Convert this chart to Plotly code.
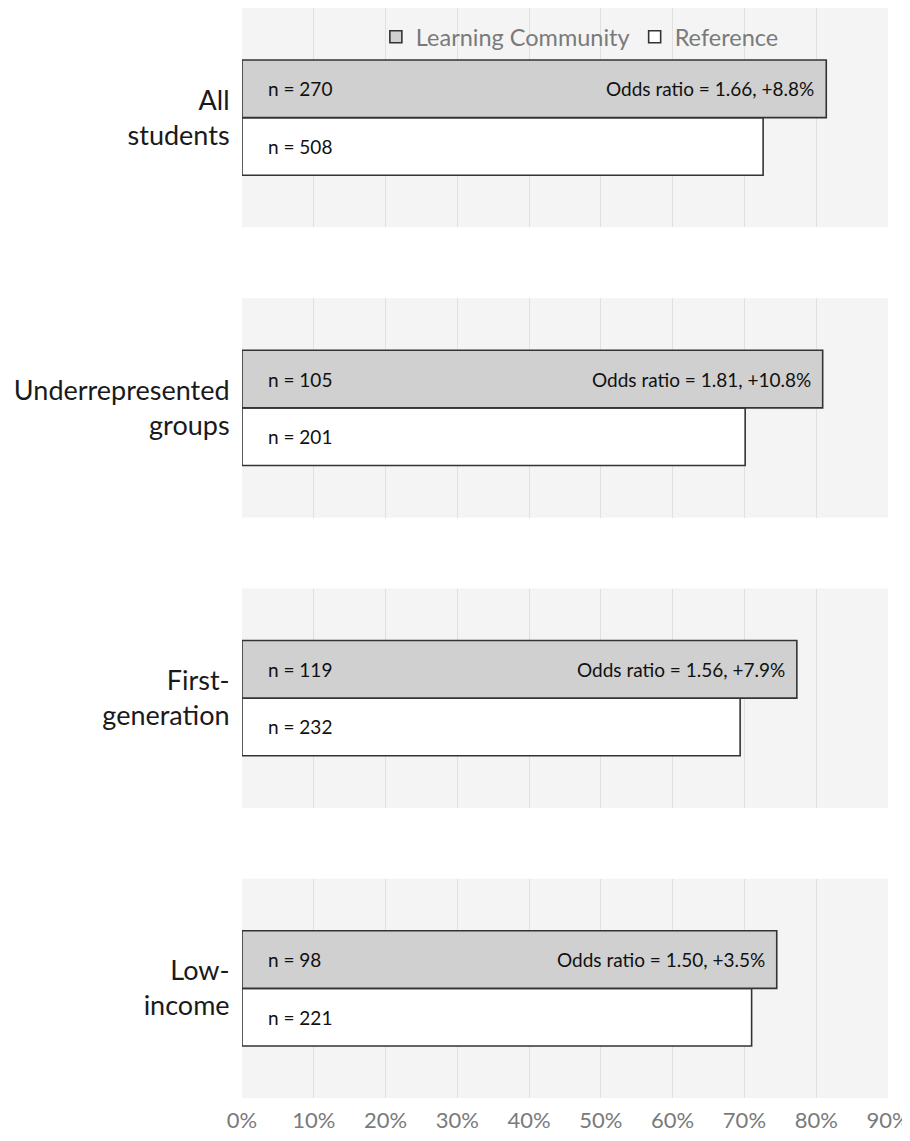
import plotly.graph_objects as go
from plotly.subplots import make_subplots

groups = ["All<br>students", "Underrepresented<br>groups", "First-<br>generation", "Low-<br>income"]
lc_pct = [81.4, 80.9, 77.3, 74.5]
ref_pct = [72.6, 70.1, 69.4, 71.0]
lc_n = [270, 105, 119, 98]
ref_n = [508, 201, 232, 221]
odds_ratio = [1.66, 1.81, 1.56, 1.50]
diff_pct = [8.8, 10.8, 7.9, 3.5]
x_ticks = [0, 10, 20, 30, 40, 50, 60, 70, 80, 90]

FONT = "Lato"
LC_FILL = "#cfd0cf"
REF_FILL = "#ffffff"
EDGE = "#333333"
BG = "#f4f4f4"
GRID = "#e0e0e0"
TICK_GRAY = "#7a7a7a"

fig = make_subplots(rows=4, cols=1, shared_xaxes=False, vertical_spacing=71 / 1090)

for i, g in enumerate(groups):
    row = i + 1
    fig.add_trace(go.Bar(
        x=[ref_pct[i]], y=[0], orientation="h", width=1,
        marker=dict(color=REF_FILL, line=dict(color=EDGE, width=1.6)),
        name="Reference", legendgroup="ref", showlegend=(i == 0), legendrank=2,
        hoverinfo="skip",
    ), row=row, col=1)
    fig.add_trace(go.Bar(
        x=[lc_pct[i]], y=[1], orientation="h", width=1,
        marker=dict(color=LC_FILL, line=dict(color=EDGE, width=1.6)),
        name="Learning Community", legendgroup="lc", showlegend=(i == 0), legendrank=1,
        hoverinfo="skip",
    ), row=row, col=1)

    xref = "x" if row == 1 else f"x{row}"
    yref = "y" if row == 1 else f"y{row}"
    txtfont = dict(family=FONT, size=19, color="#111111")
    fig.add_annotation(x=0, y=1, xref=xref, yref=yref, text=f"n = {lc_n[i]}",
                       showarrow=False, xanchor="left", xshift=24, font=txtfont)
    fig.add_annotation(x=0, y=0, xref=xref, yref=yref, text=f"n = {ref_n[i]}",
                       showarrow=False, xanchor="left", xshift=24, font=txtfont)
    fig.add_annotation(x=lc_pct[i], y=1, xref=xref, yref=yref,
                       text=f"Odds ratio = {odds_ratio[i]:.2f}, +{diff_pct[i]:.1f}%",
                       showarrow=False, xanchor="right", xshift=-10, font=txtfont)

    fig.update_yaxes(row=row, col=1, range=[-1.4, 2.4], tickvals=[0.5], ticktext=[g],
                     showgrid=False, zeroline=False, showline=False,
                     ticks="outside", ticklen=6, tickcolor="rgba(0,0,0,0)",
                     tickfont=dict(family=FONT, size=27, color="#1a1a1a"), fixedrange=True)
    fig.update_xaxes(row=row, col=1, range=[0, 90], tickvals=x_ticks,
                     ticktext=[f"{v}%" for v in x_ticks],
                     showticklabels=(row == 4), showgrid=True, gridcolor=GRID, gridwidth=1,
                     zeroline=False, showline=False,
                     ticks="outside" if row == 4 else "", ticklen=3,
                     tickcolor="rgba(0,0,0,0)",
                     tickfont=dict(family=FONT, size=22, color=TICK_GRAY), fixedrange=True)

fig.update_layout(
    width=902, height=1133,
    margin=dict(l=234, r=22, t=0, b=43),
    plot_bgcolor=BG, paper_bgcolor="white",
    barmode="overlay",
    showlegend=True,
    legend=dict(orientation="h", x=0.523, xanchor="center", y=0.9734, yanchor="middle",
                bgcolor="rgba(0,0,0,0)", font=dict(family=FONT, size=23.5, color=TICK_GRAY),
                traceorder="normal"),
    font=dict(family=FONT),
)

fig.write_html("out.html")
